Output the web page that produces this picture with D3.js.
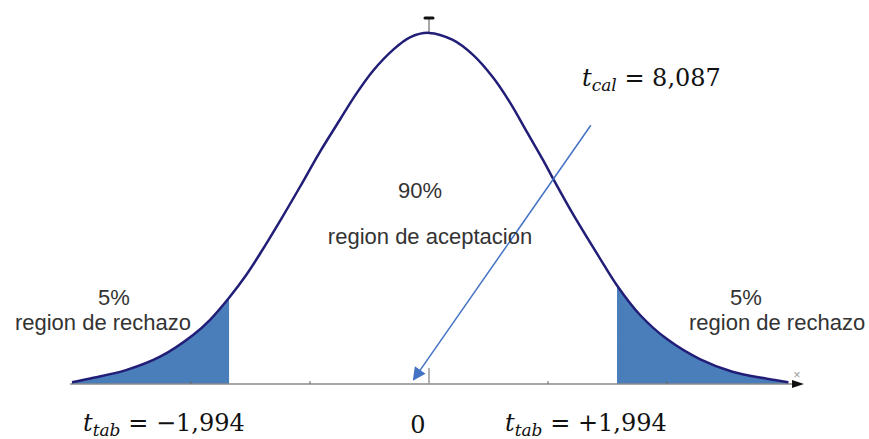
<!DOCTYPE html>
<html>
<head>
<meta charset="utf-8">
<script src="https://cdn.jsdelivr.net/npm/d3@7"></script>
<style>
  body { margin: 0; background: #fff; }
  svg { display: block; }
</style>
</head>
<body>
<script>
// t values and density
var curveT = [-3.00, -2.82, -2.54, -2.26, -1.98, -1.84, -1.68, -1.53, -1.42, -1.24, -1.08, -0.92, -0.75, -0.62, -0.47, -0.30, -0.16, 0.00,
              0.20, 0.37, 0.54, 0.68, 0.82, 0.96, 1.04, 1.21, 1.44, 1.58, 1.77, 2.00, 2.28, 2.55, 2.84, 3.02];
var curveD = [0.002, 0.007, 0.016, 0.031, 0.056, 0.073, 0.098, 0.125, 0.148, 0.188, 0.225, 0.263, 0.300, 0.328, 0.356, 0.380, 0.394, 0.399,
              0.391, 0.374, 0.348, 0.320, 0.287, 0.254, 0.234, 0.193, 0.142, 0.112, 0.079, 0.051, 0.028, 0.014, 0.006, 0.002];
var tailLeft = [-3.00, -1.68];
var tailRight = [1.58, 3.02];
var tickT = [-2, -1, 1, 2];
var regionLabels = ["5%", "region de rechazo", "90%", "region de aceptacion"];
var tTab = ["\u22121,994", "+1,994"];
var tCal = "8,087";
var arrowFrom = [1.36, 0.294];
var arrowTo = [-0.13, 0.005];

var W = 869, H = 439;
var svg = d3.select("body").append("svg").attr("width", W).attr("height", H);

var x = d3.scaleLinear().domain([0, 1]).range([429, 548]);
var y = d3.scaleLinear().domain([0, 0.4]).range([384, 32]);

var pts = curveT.map(function(t, i){ return [t, curveD[i]]; });

var area = d3.area().x(function(d){ return x(d[0]); }).y0(y(0)).y1(function(d){ return y(d[1]); }).curve(d3.curveCatmullRom);
var line = d3.line().x(function(d){ return x(d[0]); }).y(function(d){ return y(d[1]); }).curve(d3.curveCatmullRom);

// shaded tails
[tailLeft, tailRight].forEach(function(b){
  var seg = pts.filter(function(d){ return d[0] >= b[0] - 1e-9 && d[0] <= b[1] + 1e-9; });
  svg.append("path").attr("d", area(seg)).style("fill", "#4a7ebb").style("stroke", "none");
});

// axis
svg.append("line").attr("x1", 70).attr("x2", 800).attr("y1", y(0)).attr("y2", y(0))
  .style("stroke", "#8a8a8a").style("stroke-width", 1.5);
svg.append("path").attr("d", "M792,380 L804,384 L792,388 Z").style("fill", "#111");
svg.append("text").attr("x", 797).attr("y", 379).attr("text-anchor", "middle")
  .style("font-family", "Liberation Sans, Arial, sans-serif").style("font-size", "12px").style("fill", "#999").text("\u00d7");

svg.selectAll(".tick").data(tickT).enter().append("line")
  .attr("x1", function(d){ return x(d); }).attr("x2", function(d){ return x(d); })
  .attr("y1", y(0) - 3).attr("y2", y(0))
  .style("stroke", "#666").style("stroke-width", 1);
svg.append("line").attr("x1", x(0)).attr("x2", x(0)).attr("y1", y(0) - 16).attr("y2", y(0))
  .style("stroke", "#999").style("stroke-width", 1.5);

// top marker
svg.append("line").attr("x1", x(0)).attr("x2", x(0)).attr("y1", 18).attr("y2", y(0.399))
  .style("stroke", "#888").style("stroke-width", 1.5);
svg.append("line").attr("x1", x(0) - 4).attr("x2", x(0) + 4).attr("y1", 18).attr("y2", 18)
  .style("stroke", "#111").style("stroke-width", 3).style("stroke-linecap", "round");

svg.append("path").attr("d", line(pts)).style("fill", "none").style("stroke", "#221e78").style("stroke-width", 2.5);

// arrow
svg.append("defs").append("marker").attr("id", "head").attr("viewBox", "0 0 10 10")
  .attr("refX", 9).attr("refY", 5).attr("markerWidth", 17).attr("markerHeight", 13)
  .attr("markerUnits", "userSpaceOnUse").attr("orient", "auto")
  .append("path").attr("d", "M0,0 L10,5 L0,10 Z").style("fill", "#4472c4");
svg.append("line")
  .attr("x1", x(arrowFrom[0])).attr("y1", y(arrowFrom[1]))
  .attr("x2", x(arrowTo[0])).attr("y2", y(arrowTo[1]))
  .style("stroke", "#4472c4").style("stroke-width", 1.5).attr("marker-end", "url(#head)");

// region labels
var sans = "Liberation Sans, Arial, sans-serif";
function label(tx, ty, s, anchor){
  svg.append("text").attr("x", tx).attr("y", ty).attr("text-anchor", anchor || "middle")
    .style("font-family", sans).style("font-size", "22px").style("fill", "#333").text(s);
}
label(114, 305, regionLabels[0]);
label(103, 330, regionLabels[1]);
label(746, 305, regionLabels[0]);
label(689, 330, regionLabels[1], "start");
label(420, 198, regionLabels[2]);
label(430, 244, regionLabels[3]);

// math labels
var serif = "DejaVu Serif, Liberation Serif, serif";
function mathLabel(tx, ty, sub, rest){
  var t = svg.append("text").attr("x", tx).attr("y", ty)
    .style("font-family", serif).style("font-size", "24px").style("fill", "#111");
  t.append("tspan").style("font-style", "italic").text("t");
  t.append("tspan").attr("dy", 5).style("font-style", "italic").style("font-size", "17px").text(sub);
  t.append("tspan").attr("dy", -5).text(" = " + rest);
}
mathLabel(83, 431, "tab", tTab[0]);
mathLabel(505, 431, "tab", tTab[1]);
mathLabel(582, 86, "cal", tCal);
svg.append("text").attr("x", x(0) - 11).attr("y", 433).attr("text-anchor", "middle")
  .style("font-family", serif).style("font-size", "24px").style("fill", "#111").text("0");
</script>
</body>
</html>
